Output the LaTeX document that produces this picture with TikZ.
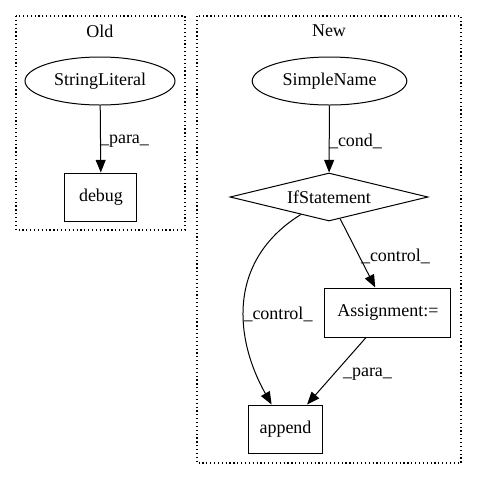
\documentclass[tikz,border=0pt]{standalone}
\usepackage{fontspec}
\setmainfont{Liberation Serif}
\usetikzlibrary{shapes.geometric,arrows.meta}

\tikzset{every picture/.style={line width=0.75pt}}
\tikzset{
  cluster/.style={draw, dotted, line width=0.9pt},
  ellnode/.style={draw, ellipse, minimum height=36pt, inner sep=0pt},
  boxnode/.style={draw, rectangle, minimum height=36pt, inner sep=0pt},
  condnode/.style={draw, diamond, aspect=4.1, minimum width=148.5pt, minimum height=36pt, inner sep=0pt},
  lbl/.style={inner sep=0pt},
  flow/.style={-{Triangle[length=9.5pt,width=7.5pt]}},
}

\begin{document}
\begin{tikzpicture}[x=0.75pt,y=0.75pt,yscale=-1,xscale=1,font=\fontsize{13.5}{15}\selectfont]
		\useasboundingbox (0,0) rectangle (477,480);

		%Clusters
		\draw [cluster] (16,16) rectangle (185,230);
		\draw [cluster] (197,16) rectangle (461,463);
		\draw (100,31) node [lbl] (oldtitle) {Old};
		\draw (329,31) node [lbl] (newtitle) {New};

		%Old
		\draw (100,81) node [ellnode, minimum width=112.5pt] (strlit) {StringLiteral};
		\draw (101,197) node [boxnode, minimum width=54pt] (debug) {debug};

		%New
		\draw (329.5,81) node [ellnode, minimum width=116pt] (simplename) {SimpleName};
		\draw (329,197) node [condnode] (ifst) {IfStatement};
		\draw (388,312.5) node [boxnode, minimum width=94.5pt, minimum height=36.75pt] (assign) {Assignment:=};
		\draw (285.5,429) node [boxnode, minimum width=56pt] (append) {append};

		%Edges
		\draw [flow] (strlit) -- (debug);
		\draw [flow] (simplename) -- (ifst);
		\draw [flow] (ifst) -- (assign);
		\draw [flow] (ifst) to [out=135, in=250, looseness=1.1] (append);
		\draw [flow] (assign) -- (append);

		% Text Node
		\draw (124.5,141) node [lbl] (lblpara) {\_para\_};
		% Text Node
		\draw (355.5,141) node [lbl] (lblcond) {\_cond\_};
		% Text Node
		\draw (395.5,256) node [lbl] (lblctrl) {\_control\_};
		% Text Node
		\draw (278,314) node [lbl] (lblctrlb) {\_control\_};
		% Text Node
		\draw (367.5,374) node [lbl] (lblparab) {\_para\_};

		\end{tikzpicture}
\end{document}
